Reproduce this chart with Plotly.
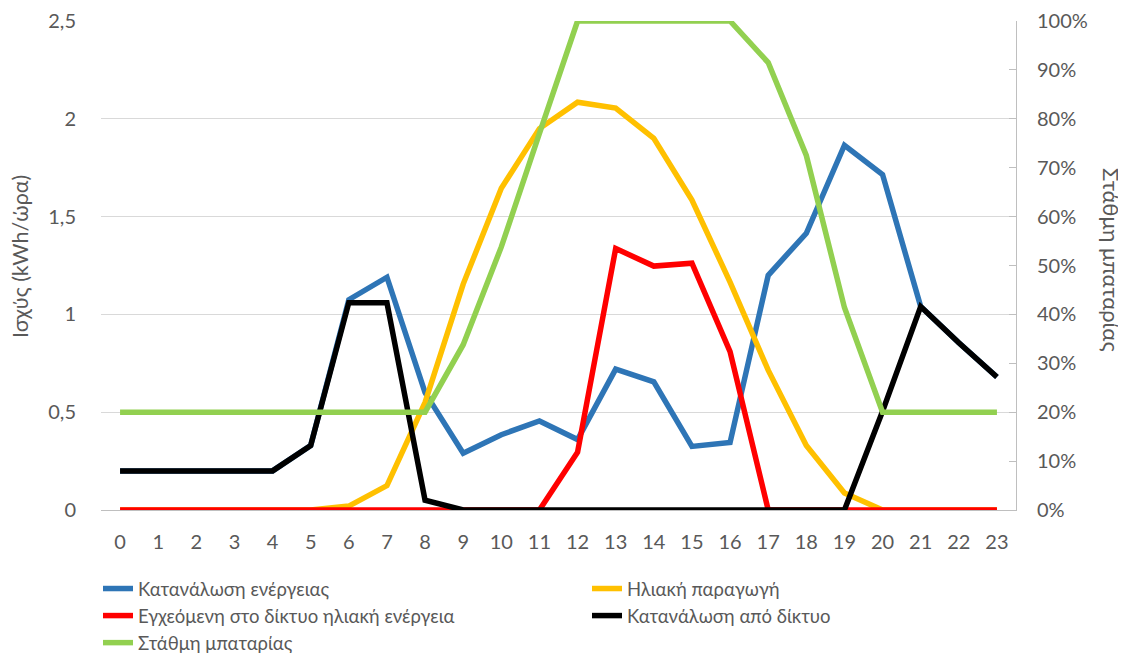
import plotly.graph_objects as go

hours = list(range(24))
consumption = [0.2, 0.2, 0.2, 0.2, 0.2, 0.33, 1.075, 1.19, 0.6, 0.29, 0.385, 0.455, 0.36, 0.72, 0.655, 0.325, 0.345, 1.2, 1.415, 1.865, 1.715, 1.04, 0.855, 0.68]
solar = [0, 0, 0, 0, 0, 0, 0.02, 0.125, 0.55, 1.155, 1.645, 1.95, 2.085, 2.055, 1.9, 1.585, 1.165, 0.715, 0.33, 0.087, 0, 0, 0, 0]
grid_export = [0, 0, 0, 0, 0, 0, 0, 0, 0, 0, 0, 0, 0.295, 1.337, 1.247, 1.262, 0.81, 0, 0, 0, 0, 0, 0, 0]
grid_import = [0.2, 0.2, 0.2, 0.2, 0.2, 0.33, 1.06, 1.06, 0.05, 0, 0, 0, 0, 0, 0, 0, 0, 0, 0, 0, 0.505, 1.04, 0.855, 0.68]
battery = [0.2, 0.2, 0.2, 0.2, 0.2, 0.2, 0.2, 0.2, 0.2, 0.338, 0.538, 0.77, 1.0, 1.0, 1.0, 1.0, 1.0, 0.915, 0.725, 0.414, 0.2, 0.2, 0.2, 0.2]

names = ["Κατανάλωση ενέργειας", "Ηλιακή παραγωγή", "Εγχεόμενη στο δίκτυο ηλιακή ενέργεια",
         "Κατανάλωση από δίκτυο", "Στάθμη μπαταρίας"]
colors = ["#2E75B6", "#FFC000", "#FF0000", "#000000", "#92D050"]

left_ticks = [0, 0.5, 1, 1.5, 2, 2.5]
left_labels = ["0", "0,5", "1", "1,5", "2", "2,5"]
right_ticks = [i / 10 for i in range(11)]
right_labels = [f"{i * 10}%" for i in range(11)]

FONT = "Lato"
GRAY = "#595959"
LW = 5.5
# the page body has an 8px default margin, so figure coords = page coords - 8
ML, MR, MT, MB = 93, 118, 13, 151
W, H = 1126, 653
PW, PH = W - ML - MR, H - MT - MB


def px_x(x):
    return (x - ML) / PW


def px_y(y):
    return (H - MB - y) / PH


fig = go.Figure()
series = [consumption, solar, grid_export, grid_import]
legends = ["legend", "legend2", "legend", "legend2"]
for s, n, c, lg in zip(series, names[:4], colors[:4], legends):
    fig.add_trace(go.Scatter(x=hours, y=s, name=n, mode="lines",
                             line=dict(color=c, width=LW), legend=lg))
fig.add_trace(go.Scatter(x=hours, y=battery, name=names[4], mode="lines",
                         line=dict(color=colors[4], width=LW), yaxis="y2", legend="legend"))

tick_font = dict(family=FONT, size=20, color=GRAY)
legend_font = dict(family=FONT, size=18.5, color=GRAY)
fig.update_layout(
    width=W, height=H,
    margin=dict(l=ML, r=MR, t=MT, b=MB, autoexpand=False),
    paper_bgcolor="white", plot_bgcolor="white",
    font=dict(family=FONT, size=20, color=GRAY),
    xaxis=dict(range=[-0.5, 23.5], tickmode="array", tickvals=hours,
               ticktext=[str(h) for h in hours], showgrid=False, zeroline=False,
               showline=True, linecolor="#BFBFBF", linewidth=1, ticks="",
               ticklabelstandoff=14, tickfont=tick_font),
    yaxis=dict(range=[0, 2.5], tickmode="array", tickvals=left_ticks, ticktext=left_labels,
               showgrid=True, gridcolor="#D9D9D9", gridwidth=1, zeroline=False,
               showline=False, ticks="", ticklabelstandoff=24, tickfont=tick_font),
    yaxis2=dict(range=[0, 1], overlaying="y", side="right", tickmode="array",
                tickvals=right_ticks, ticktext=right_labels, showgrid=False,
                zeroline=False, showline=True, linecolor="#BFBFBF", linewidth=1,
                ticks="inside", ticklen=7, tickcolor="#BFBFBF",
                ticklabelstandoff=16, tickfont=tick_font),
    legend=dict(x=px_x(90), y=px_y(562), xanchor="left", yanchor="top",
                orientation="v", font=legend_font,
                bgcolor="rgba(0,0,0,0)", itemwidth=30),
    legend2=dict(x=px_x(579), y=px_y(562), xanchor="left", yanchor="top",
                 orientation="v", font=legend_font,
                 bgcolor="rgba(0,0,0,0)", itemwidth=30),
    showlegend=True,
    annotations=[
        dict(text="Ισχύς (kWh/ώρα)", x=px_x(12), y=px_y(249),
             xref="paper", yref="paper", showarrow=False, textangle=-90,
             xanchor="center", yanchor="middle",
             font=dict(family=FONT, size=21.5, color=GRAY)),
        dict(text="Στάθμη μπαταρίας", x=px_x(1104), y=px_y(252),
             xref="paper", yref="paper", showarrow=False, textangle=90,
             xanchor="center", yanchor="middle",
             font=dict(family=FONT, size=22, color=GRAY)),
    ],
)

fig.write_html("out.html")
